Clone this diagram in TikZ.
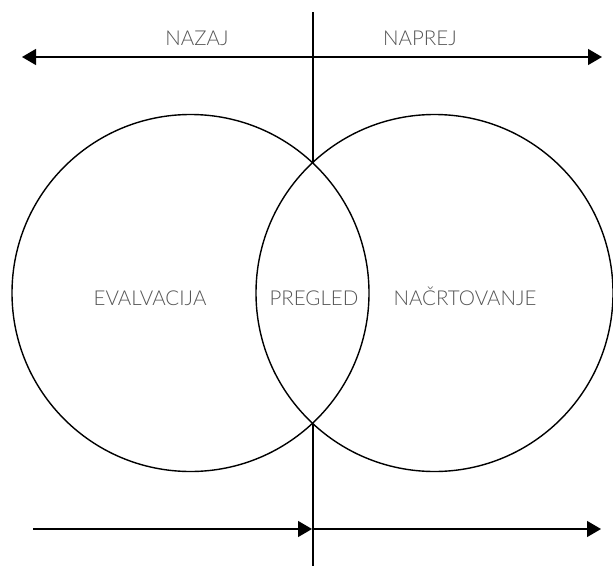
\documentclass[tikz,border=0pt]{standalone}
\usepackage{fontspec}
\setmainfont{Lato}[UprightFont=* Light]
\usetikzlibrary{arrows.meta}
\definecolor{labelgray}{HTML}{555555}
\begin{document}
\begin{tikzpicture}[x=1pt,y=-1pt,line width=1.4pt,
  lbl/.style={font=\fontsize{20.5}{22}\selectfont, text=labelgray, inner sep=0pt, anchor=base},
  ring/.style={circle, draw, minimum size=357pt, inner sep=0pt},
  tip/.tip={Triangle[length=14pt,width=16pt]}]
\useasboundingbox (0,0) rectangle (613,570);
\node[ring] (L) at (190.5,293) {};
\node[ring] (R) at (434.5,293) {};
\coordinate (vt) at (313,12);
\coordinate (xt) at (313,162.5);
\coordinate (xb) at (313,423.5);
\coordinate (vb) at (313,566);
\coordinate (tl) at (22,57);
\coordinate (tr) at (602,57);
\coordinate (bl) at (33,529);
\coordinate (bm) at (312,529);
\coordinate (bs) at (313,529);
\coordinate (br) at (601,529);
\draw (vt) -- (xt);
\draw (xb) -- (vb);
\draw[tip-tip] (tl) -- (tr);
\draw[-tip] (bl) -- (bm);
\draw[-tip] (bs) -- (br);
\node[lbl] (nazaj) at (197,45) {NAZAJ};
\node[lbl] (naprej) at (420,45) {NAPREJ};
\node[lbl] (eval) at (150,305) {EVALVACIJA};
\node[lbl] (preg) at (314,305) {PREGLED};
\node[lbl] (nacrt) at (465,305) {NAČRTOVANJE};
\end{tikzpicture}
\end{document}
